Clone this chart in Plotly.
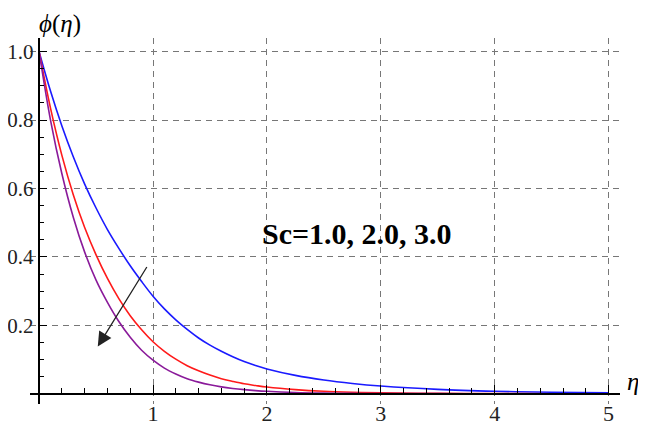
import plotly.graph_objects as go

# eta grid and concentration profiles phi(eta)
eta = [0, 0.1, 0.2, 0.3, 0.4, 0.5, 0.6, 0.7, 0.8, 0.9, 1.0, 1.1, 1.2, 1.3, 1.4, 1.5, 1.6, 1.7, 1.8, 1.9, 2.0,
       2.25, 2.5, 2.75, 3.0, 3.5, 4.0, 4.5, 5.0]
phi_sc1 = [1.0, 0.885, 0.783, 0.693, 0.613, 0.543, 0.48, 0.425, 0.374, 0.328, 0.285, 0.248, 0.216, 0.188, 0.163,
           0.142, 0.124, 0.108, 0.094, 0.0825, 0.0725, 0.0537, 0.040, 0.030, 0.0225, 0.0128, 0.0073, 0.0042, 0.0024]
phi_sc2 = [1.0, 0.835, 0.697, 0.582, 0.486, 0.406, 0.337, 0.278, 0.228, 0.187, 0.152, 0.124, 0.101, 0.082, 0.067,
           0.0545, 0.044, 0.036, 0.029, 0.024, 0.0195, 0.012, 0.0072, 0.0044, 0.0027, 0.001, 0.0004, 0.00015, 0.00006]
phi_sc3 = [1.0, 0.80, 0.643, 0.516, 0.414, 0.332, 0.267, 0.211, 0.165, 0.127, 0.098, 0.075, 0.058, 0.044, 0.034,
           0.026, 0.02, 0.0155, 0.012, 0.0092, 0.0071, 0.0037, 0.002, 0.001, 0.0006, 0.0002, 0.00005, 0.0, 0.0]

x_ticks = [1, 2, 3, 4, 5]
y_ticks = [0.2, 0.4, 0.6, 0.8, 1.0]
y_labels = ["0.2", "0.4", "0.6", "0.8", "1.0"]

serif = "Liberation Serif, Times New Roman, serif"

# 版面 (像素)；頁面 body 有 8px 邊距，所以圖本身縮 8px
W, H = 638, 415
ML, MR, MT, MB = 22, 26, 30, 19
PW, PH = W - ML - MR, H - MT - MB

fig = go.Figure()
for y, c in [(phi_sc1, "#1a1aff"), (phi_sc2, "#ff1a1a"), (phi_sc3, "#8a1a9a")]:
    fig.add_trace(go.Scatter(x=eta, y=y, mode="lines", line=dict(color=c, width=1.6, shape="spline", smoothing=1),
                             showlegend=False))

# 箭頭 (Sc 增大方向)
fig.add_annotation(x=0.515, y=0.138, ax=0.954, ay=0.375, xref="x", yref="y", axref="x", ayref="y",
                   text="", showarrow=True, arrowhead=2, arrowsize=2.2, arrowwidth=1.3, arrowcolor="#222222")
fig.add_annotation(x=2.79, y=0.469, xref="x", yref="y", text="<b>Sc=1.0, 2.0, 3.0</b>", showarrow=False,
                   font=dict(family=serif, size=30, color="black"))

# 軸標籤
fig.add_annotation(x=(29 - ML) / PW, y=(H - MB) / PH, xref="paper", yref="paper", yanchor="top",
                   text="<i>ϕ</i>(<i>η</i>)", showarrow=False, font=dict(family=serif, size=25, color="black"))
fig.add_annotation(x=(633 - ML) / PW, y=(H - MB - 389) / PH, xref="paper", yref="paper",
                   text="<i>η</i>", showarrow=False, font=dict(family=serif, size=25, color="black"))

grid = dict(showgrid=True, gridcolor="#777777", gridwidth=1.2, griddash="6px,5px",
            showline=True, linecolor="black", linewidth=1.5, zeroline=False, automargin=False,
            ticks="inside", tickcolor="black", ticklen=8, tickwidth=1.2)

fig.update_xaxes(range=[-0.08, 5.1], tickvals=x_ticks, anchor="free", position=(H - MB - 385.5) / PH,
                 tickfont=dict(family=serif, size=22, color="#222222"),
                 minor=dict(ticks="inside", dtick=0.2, tick0=0, ticklen=5, tickcolor="black", showgrid=False), **grid)
fig.update_yaxes(range=[-0.03, 1.04], tickvals=y_ticks, ticktext=y_labels, anchor="free", position=(30.5 - ML) / PW,
                 tickfont=dict(family=serif, size=21, color="#222222"),
                 minor=dict(ticks="inside", dtick=0.05, tick0=0, ticklen=5, tickcolor="black", showgrid=False), **grid)

fig.update_layout(width=W, height=H, plot_bgcolor="white", paper_bgcolor="white",
                  margin=dict(l=ML, r=MR, t=MT, b=MB), showlegend=False)

fig.write_html("out.html")
